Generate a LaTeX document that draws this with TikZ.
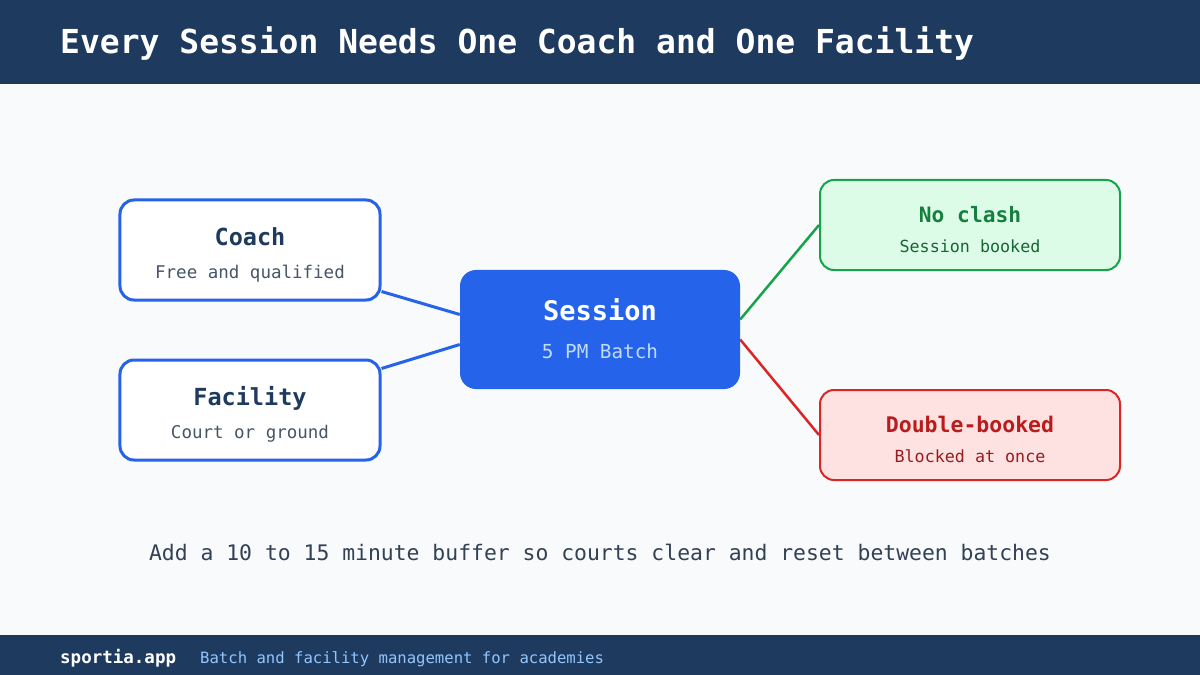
\documentclass[tikz,border=0pt]{standalone}
\usepackage{fontspec}
\setmainfont{DejaVu Sans Mono}
\setmonofont{DejaVu Sans Mono}
\definecolor{navy}{HTML}{1E3A5F}
\definecolor{pagebg}{HTML}{F8FAFC}
\definecolor{blue}{HTML}{2563EB}
\definecolor{subgray}{HTML}{475569}
\definecolor{lightblue}{HTML}{BFDBFE}
\definecolor{footblue}{HTML}{93C5FD}
\definecolor{okfill}{HTML}{DCFCE7}
\definecolor{okdraw}{HTML}{16A34A}
\definecolor{oktitle}{HTML}{15803D}
\definecolor{oksub}{HTML}{166534}
\definecolor{badfill}{HTML}{FEE2E2}
\definecolor{baddraw}{HTML}{DC2626}
\definecolor{badtitle}{HTML}{B91C1C}
\definecolor{badsub}{HTML}{991B1B}
\definecolor{notetext}{HTML}{334155}
\newcommand{\fs}[1]{\fontsize{#1bp}{#1bp}\selectfont}
\tikzset{
  txt/.style={inner sep=0pt, anchor=base},
  inbox/.style={draw=blue, line width=3bp, fill=white, rounded corners=14bp, minimum width=260bp, minimum height=100bp, inner sep=0pt},
  sessbox/.style={fill=blue, rounded corners=16bp, minimum width=280bp, minimum height=119bp, inner sep=0pt},
  okbox/.style={draw=okdraw, line width=2bp, fill=okfill, rounded corners=14bp, minimum width=300bp, minimum height=90bp, inner sep=0pt},
  badbox/.style={draw=baddraw, line width=2bp, fill=badfill, rounded corners=14bp, minimum width=300bp, minimum height=90bp, inner sep=0pt},
  inlink/.style={draw=blue, line width=3bp},
  oklink/.style={draw=okdraw, line width=2.5bp},
  badlink/.style={draw=baddraw, line width=2.5bp}
}
\begin{document}
\begin{tikzpicture}[x=1bp,y=-1bp]
\useasboundingbox (0,0) rectangle (1200,675);
\fill[pagebg] (0,0) rectangle (1200,675);
\fill[navy] (0,0) rectangle (1200,84);
\fill[navy] (0,635) rectangle (1200,675);
\node[txt, anchor=base west, text=white] (title) at (60,54) {\fs{33}\bfseries Every Session Needs One Coach and One Facility};

\node[inbox] (coach) at (250,250) {};
\node[inbox] (facility) at (250,410) {};
\node[sessbox] (session) at (600,329.5) {};
\node[okbox] (noclash) at (970,225) {};
\node[badbox] (double) at (970,435) {};

\draw[inlink] ([yshift=10bp]coach.south east) -- ([yshift=15bp]session.west);
\draw[inlink] ([yshift=-10bp]facility.north east) -- ([yshift=-15bp]session.west);
\draw[oklink] ([yshift=10bp]session.east) -- (noclash.west);
\draw[badlink] ([yshift=-10bp]session.east) -- (double.west);

\node[txt, text=navy] (coacht) at (250,245) {\fs{23.5}\bfseries Coach};
\node[txt, text=subgray] (coachs) at (250,278) {\fs{17.5}Free and qualified};
\node[txt, text=navy] (facilityt) at (250,405) {\fs{23.5}\bfseries Facility};
\node[txt, text=subgray] (facilitys) at (250,438) {\fs{17.5}Court or ground};
\node[txt, text=white] (sessiont) at (600,320) {\fs{27}\bfseries Session};
\node[txt, text=lightblue] (sessions) at (600,358) {\fs{19.3}5 PM Batch};
\node[txt, text=oktitle] (noclasht) at (970,223) {\fs{21.2}\bfseries No clash};
\node[txt, text=oksub] (noclashs) at (970,252) {\fs{16.7}Session booked};
\node[txt, text=badtitle] (doublet) at (970,432) {\fs{21.5}\bfseries Double-booked};
\node[txt, text=badsub] (doubles) at (970,462) {\fs{16.7}Blocked at once};

\node[txt, text=notetext] (note) at (600,560) {\fs{21.4}Add a 10 to 15 minute buffer so courts clear and reset between batches};

\node[txt, anchor=base west, text=white] (brand) at (60,663) {\fs{17.5}\bfseries sportia.app};
\node[txt, anchor=base west, text=footblue] (tagline) at (200,663) {\fs{15.6}Batch and facility management for academies};
\end{tikzpicture}
\end{document}
